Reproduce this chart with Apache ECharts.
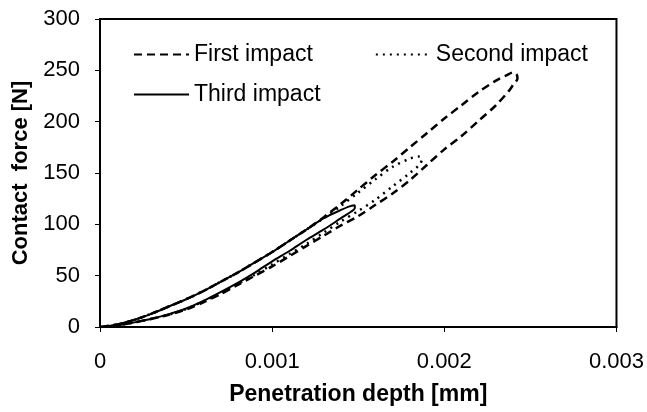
<!DOCTYPE html>
<html><head><meta charset="utf-8">
<script src="https://cdn.jsdelivr.net/npm/echarts@6/dist/echarts.min.js"></script>
<style>html,body{margin:0;padding:0;background:#fff}#c{width:647px;height:412px}</style>
</head><body><div id="c"></div>
<script>
// First impact
const firstLoadDepth = [0,0.0001,0.0002,0.0003,0.0004,0.0005,0.0006,0.0007,0.0008,0.0009,0.001,0.0011,0.0012,0.0013,0.0014,0.0015,0.0016,0.0017,0.0018,0.0019,0.002,0.0021,0.0022,0.0023,0.00236,0.0024,0.00242];
const firstLoadForce = [0,2.5,7,13,20,27,35,44,53,63,73,84,95,107,120,134,148,161,175,189,203,216,229,240,245,248,246];
const firstUnloadDepth = [0.002425,0.0024,0.00238,0.0023,0.0022,0.0021,0.002,0.0019,0.0018,0.0017,0.0016,0.0015,0.0014,0.0013,0.0012,0.0011,0.001,0.0009,0.0008,0.0007,0.0006,0.0005,0.0004,0.0003,0.0002,0.0001,0.00004];
const firstUnloadForce = [242,236,231,216,201,186,173,158,143,130,119,108,99,89,79,69,59,50,41,32,24,17,12,8,4.5,1.5,0];
// Second impact
const secondLoadDepth = [0,0.0001,0.0002,0.0003,0.0004,0.0005,0.0006,0.0007,0.0008,0.0009,0.001,0.0011,0.0012,0.0013,0.0014,0.0015,0.0016,0.0017,0.0018,0.00185,0.00187];
const secondLoadForce = [0,2.5,7,13,20,27,35,44,53,63,73,84,95,106,118,131,144,156,164,166,164];
const secondUnloadDepth = [0.00186,0.0018,0.0017,0.0016,0.0015,0.0014,0.0013,0.0012,0.0011,0.001,0.0009,0.0008,0.0007,0.0006,0.0005,0.0004,0.0003,0.0002,0.0001,0.00004];
const secondUnloadForce = [159,150,137,124,113,103,92,81,71,61,51,42,33,25,17.5,12,8,4.5,1.5,0];
// Third impact
const thirdLoadDepth = [0,0.0001,0.0002,0.0003,0.0004,0.0005,0.0006,0.0007,0.0008,0.0009,0.001,0.0011,0.0012,0.0013,0.0014,0.00145,0.00148];
const thirdLoadForce = [0,2.5,7,13,20,27,35,44,53,63,73,84,95,106,114,117.5,118.5];
const thirdUnloadDepth = [0.00148,0.00146,0.0014,0.0013,0.0012,0.0011,0.001,0.0009,0.0008,0.0007,0.0006,0.0005,0.0004,0.0003,0.0002,0.0001,0.00004];
const thirdUnloadForce = [116,112.5,106,95,85,74,64,53,43,34,25.5,18,12.5,8,4.5,1.5,0];

const xTicks = [0, 0.001, 0.002, 0.003];
const yTicks = [0, 50, 100, 150, 200, 250, 300];
const seriesNames = ['First impact', 'Second impact', 'Third impact'];

function pairs(dl, fl, du, fu) {
  const out = [];
  dl.forEach((d, i) => out.push([d, fl[i]]));
  du.forEach((d, i) => out.push([d, fu[i]]));
  return out;
}
const firstData = pairs(firstLoadDepth, firstLoadForce, firstUnloadDepth, firstUnloadForce);
const secondData = pairs(secondLoadDepth, secondLoadForce, secondUnloadDepth, secondUnloadForce);
const thirdData = pairs(thirdLoadDepth, thirdLoadForce, thirdUnloadDepth, thirdUnloadForce);

const FONT = '"Liberation Sans", Arial, sans-serif';
const legendText = {fontFamily: FONT, fontSize: 23, color: '#000'};
const chart = echarts.init(document.getElementById('c'), null, {renderer: 'canvas'});
chart.setOption({
  animation: false,
  backgroundColor: '#fff',
  grid: {left: 100, right: 30, top: 19, bottom: 85, show: true, borderColor: '#000', borderWidth: 2, backgroundColor: 'transparent'},
  legend: [
    {data: [seriesNames[0], seriesNames[1]], left: 128, top: 38, itemWidth: 55, itemHeight: 12, itemGap: 62,
     itemStyle: {opacity: 0}, textStyle: legendText},
    {data: [seriesNames[2]], left: 128, top: 78, itemWidth: 55, itemHeight: 12,
     itemStyle: {opacity: 0}, textStyle: legendText}
  ],
  xAxis: {
    type: 'value', min: xTicks[0], max: xTicks[xTicks.length - 1], interval: 0.001,
    name: 'Penetration depth [mm]', nameLocation: 'middle', nameGap: 56,
    nameTextStyle: {fontFamily: FONT, fontSize: 23, fontWeight: 'bold', color: '#000'},
    axisLine: {show: true, lineStyle: {color: '#000', width: 2}},
    axisTick: {show: true, inside: false, length: 5, lineStyle: {color: '#000', width: 1}},
    axisLabel: {fontFamily: FONT, fontSize: 22, color: '#000', margin: 24,
      formatter: v => String(xTicks.find(t => Math.abs(t - v) < 1e-9) ?? v)},
    splitLine: {show: false}
  },
  yAxis: {
    type: 'value', min: yTicks[0], max: yTicks[yTicks.length - 1], interval: 50,
    name: 'Contact  force [N]', nameLocation: 'middle', nameGap: 57, nameRotate: 90,
    nameTextStyle: {fontFamily: FONT, fontSize: 22, fontWeight: 'bold', color: '#000'},
    axisLine: {show: true, lineStyle: {color: '#000', width: 2}},
    axisTick: {show: true, inside: false, length: 5, lineStyle: {color: '#000', width: 1}},
    axisLabel: {fontFamily: FONT, fontSize: 22, color: '#000', margin: 20},
    splitLine: {show: false}
  },
  series: [
    {name: seriesNames[0], type: 'line', data: firstData, symbol: 'none', smooth: 0.3,
     lineStyle: {color: '#000', width: 2.5, type: [8, 5]}, itemStyle: {color: '#000'}, z: 2},
    {name: seriesNames[1], type: 'line', data: secondData, symbol: 'none', smooth: 0.3,
     lineStyle: {color: '#000', width: 2.5, type: [2, 5]}, itemStyle: {color: '#000'}, z: 3},
    {name: seriesNames[2], type: 'line', data: thirdData, symbol: 'none', smooth: 0.3,
     lineStyle: {color: '#000', width: 2}, itemStyle: {color: '#000'}, z: 4}
  ]
});
</script></body></html>
